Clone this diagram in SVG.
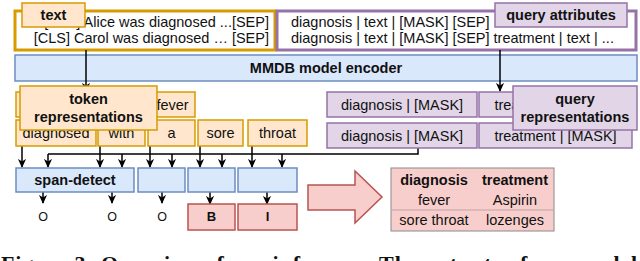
<svg xmlns="http://www.w3.org/2000/svg" width="640" height="261" viewBox="0 0 640 261">
<style>
text{font-family:"Liberation Sans",Arial,sans-serif;font-size:14.5px;fill:#111}
.b{font-weight:bold}
.m{text-anchor:middle}
.or{fill:#FFE6CC;stroke:#D79B00;stroke-width:1.5}
.pu{fill:#E1D5E7;stroke:#9673A6;stroke-width:1.5}
.bl{fill:#DAE8FC;stroke:#6C8EBF;stroke-width:1.5}
.rd{fill:#F8CECC;stroke:#B85450;stroke-width:1.5}
.c{fill:none;stroke:#000;stroke-width:1.5}
.ca{fill:none;stroke:#000;stroke-width:1.5;marker-end:url(#ah)}
.o{font-size:12.5px}
.cap{font-family:"Liberation Serif","Times New Roman",serif;font-size:22px;font-weight:bold}
</style>
<defs>
<marker id="ah" viewBox="0 0 10 10" refX="9" refY="5" markerWidth="9" markerHeight="9" markerUnits="userSpaceOnUse" orient="auto">
<path d="M0,0.5 L10,5 L0,9.5 L3,5 z" fill="#000"/>
</marker>
</defs>

<g id="text-input">
<rect x="15" y="11" width="260" height="39" fill="#fff" stroke="#D79B00" stroke-width="3"/>
<text x="269" y="27" text-anchor="end">[CLS] Alice was diagnosed ...[SEP]</text>
<text x="269" y="43" text-anchor="end">[CLS] Carol was diagnosed … [SEP]</text>
</g>
<g id="query-input">
<rect x="277" y="11" width="359" height="39" fill="#fff" stroke="#9673A6" stroke-width="3"/>
<text x="291" y="27">diagnosis | text | [MASK] [SEP]</text>
<text x="291" y="43">diagnosis | text | [MASK] [SEP] treatment | text | ...</text>
</g>
<g id="text-label">
<rect class="or" x="22" y="3" width="63" height="24"/>
<text class="b m" x="53.5" y="20">text</text>
</g>
<g id="query-attributes-label">
<rect class="pu" x="495" y="3" width="132" height="24"/>
<text class="b m" x="561" y="20">query attributes</text>
</g>
<g id="encoder">
<rect class="bl" x="15" y="55" width="622" height="26"/>
<text class="b m" x="326" y="73">MMDB model encoder</text>
</g>

<g id="connectors">
<line class="ca" x1="86" y1="50" x2="86" y2="91"/>
<line class="ca" x1="500" y1="50" x2="500" y2="91"/>
<line class="ca" x1="22" y1="146" x2="22" y2="167"/>
<line class="ca" x1="100" y1="146" x2="100" y2="167"/>
<line class="ca" x1="150" y1="146" x2="150" y2="167"/>
<line class="ca" x1="200" y1="146" x2="200" y2="167"/>
<line class="ca" x1="252" y1="146" x2="252" y2="167"/>
<polyline class="c" points="418,148 418,154 48,154" stroke-width="2"/>
<line class="ca" x1="48" y1="154" x2="48" y2="167"/>
<line class="ca" x1="122" y1="154" x2="122" y2="167"/>
<line class="ca" x1="172" y1="154" x2="172" y2="167"/>
<line class="ca" x1="222" y1="154" x2="222" y2="167"/>
<line class="ca" x1="282" y1="154" x2="282" y2="167"/>
<line class="ca" x1="43" y1="192" x2="43" y2="203"/>
<line class="ca" x1="112" y1="192" x2="112" y2="203"/>
<line class="ca" x1="162" y1="192" x2="162" y2="203"/>
<line class="ca" x1="210" y1="192" x2="210" y2="204"/>
<line class="ca" x1="267" y1="192" x2="267" y2="204"/>
</g>

<g id="tokens-row1">
<rect class="or" x="16" y="92" width="80" height="25"/>
<rect class="or" x="98" y="92" width="47" height="25"/>
<rect class="or" x="150" y="92" width="45" height="25"/>
<text class="m" x="172.5" y="110">fever</text>
</g>
<g id="tokens-row2">
<rect class="or" x="16" y="120" width="80" height="26"/>
<text class="m" x="56" y="138">diagnosed</text>
<rect class="or" x="98" y="120" width="47" height="26"/>
<text class="m" x="121.5" y="138">with</text>
<rect class="or" x="148" y="120" width="47" height="26"/>
<text class="m" x="171.5" y="138">a</text>
<rect class="or" x="198" y="120" width="45" height="26"/>
<text class="m" x="220.5" y="138">sore</text>
<rect class="or" x="248" y="120" width="59" height="26"/>
<text class="m" x="277.5" y="138">throat</text>
</g>
<g id="token-representations">
<rect class="or" x="20" y="86" width="137" height="44"/>
<text class="b m" x="88.5" y="104">token</text>
<text class="b m" x="88.5" y="122">representations</text>
</g>

<g id="queries">
<rect class="pu" x="327" y="92" width="150" height="25"/>
<text class="m" x="402" y="110">diagnosis | [MASK]</text>
<rect class="pu" x="479" y="92" width="153" height="25"/>
<text class="m" x="555.5" y="110">treatment | [MASK]</text>
<rect class="pu" x="327" y="123" width="150" height="25"/>
<text class="m" x="402" y="141">diagnosis | [MASK]</text>
<rect class="pu" x="479" y="123" width="153" height="25"/>
<text class="m" x="555.5" y="141">treatment | [MASK]</text>
</g>
<g id="query-representations">
<rect class="pu" x="513" y="86" width="124" height="44"/>
<text class="b m" x="575" y="104">query</text>
<text class="b m" x="575" y="122">representations</text>
</g>

<g id="span-detect">
<rect class="bl" x="16" y="168" width="118" height="24"/>
<text class="b m" x="75" y="185">span-detect</text>
<rect class="bl" x="138" y="168" width="47" height="24"/>
<rect class="bl" x="188" y="168" width="47" height="24"/>
<rect class="bl" x="238" y="168" width="59" height="24"/>
</g>
<g id="tags">
<text class="m o" x="43" y="221">O</text>
<text class="m o" x="112" y="221">O</text>
<text class="m o" x="162" y="221">O</text>
<rect class="rd" x="188" y="204" width="47" height="26"/>
<text class="b m" x="211.5" y="221" style="font-size:13px">B</text>
<rect class="rd" x="238" y="204" width="59" height="26"/>
<text class="b m" x="267.5" y="221" style="font-size:13px">I</text>
</g>
<g id="big-arrow">
<polygon class="rd" points="308,185 355,185 355,171 382,197 355,223 355,210 308,210"/>
</g>
<g id="result-table">
<rect x="391" y="168" width="163" height="63" fill="#F8CECC" stroke="#8a8a8a" stroke-width="1"/>
<line x1="391" y1="210" x2="554" y2="210" stroke="#c0a4a4" stroke-width="1"/>
<text class="b m" x="434" y="185">diagnosis</text>
<text class="b m" x="515" y="185">treatment</text>
<text class="m" x="434" y="205">fever</text>
<text class="m" x="515" y="205">Aspirin</text>
<text class="m" x="434" y="225">sore throat</text>
<text class="m" x="515" y="225">lozenges</text>
</g>
<g id="caption">
<text class="cap" x="1" y="271" textLength="636" lengthAdjust="spacing">Figure 3: Overview of our inference. The outputs of our model</text>
</g>
</svg>
